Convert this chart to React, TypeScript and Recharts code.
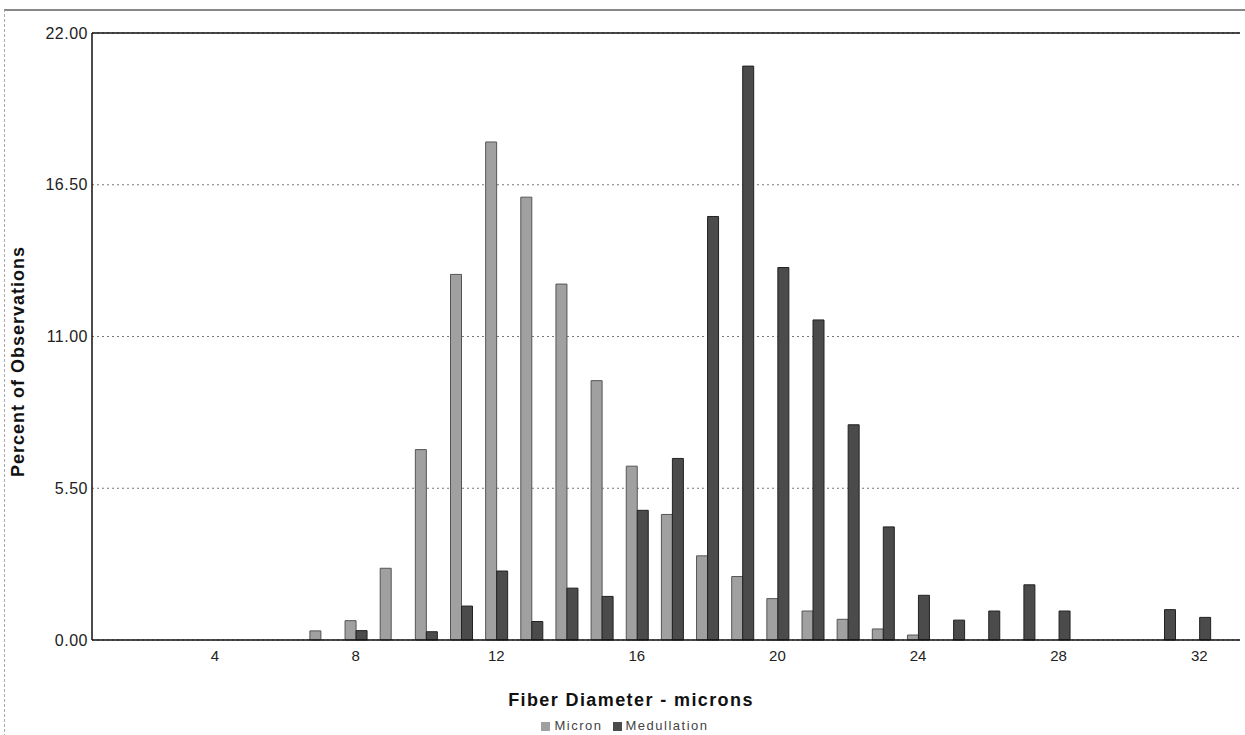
import React from 'react';
import { BarChart, Bar, XAxis, YAxis, CartesianGrid, Legend, ReferenceLine } from 'recharts';

const diameters = [1, 2, 3, 4, 5, 6, 7, 8, 9, 10, 11, 12, 13, 14, 15, 16, 17, 18, 19, 20, 21, 22, 23, 24, 25, 26, 27, 28, 29, 30, 31, 32];
const micron = [0, 0, 0, 0, 0, 0, 0.33, 0.7, 2.6, 6.9, 13.25, 18.05, 16.05, 12.9, 9.4, 6.3, 4.55, 3.05, 2.3, 1.5, 1.05, 0.75, 0.4, 0.18, 0, 0, 0, 0, 0, 0, 0, 0];
const medullation = [0, 0, 0, 0, 0, 0, 0, 0.34, 0, 0.3, 1.23, 2.5, 0.67, 1.88, 1.58, 4.7, 6.58, 15.35, 20.8, 13.5, 11.6, 7.8, 4.1, 1.62, 0.72, 1.05, 2.0, 1.05, 0, 0, 1.1, 0.82];
const xTicks = [4, 8, 12, 16, 20, 24, 28, 32];
const yTicks = [0, 5.5, 11, 16.5, 22];
const seriesOrder = ['Micron', 'Medullation'];

const data = diameters.map((d, i) => ({ d, Micron: micron[i], Medullation: medullation[i] }));

const FONT = '"Liberation Sans", Arial, sans-serif';

const YLabel = (props: any) => {
  const vb = props.viewBox || {};
  const x = 18;
  const y = (vb.y || 0) + (vb.height || 0) / 2 + 25;
  return (
    <text x={x} y={y} transform={`rotate(-90 ${x} ${y})`} textAnchor="middle" dominantBaseline="central"
      style={{ fill: '#111', fontSize: 18, fontWeight: 'bold', fontFamily: FONT, letterSpacing: 1 }}>
      Percent of Observations
    </text>
  );
};

const XLabel = (props: any) => {
  const vb = props.viewBox || {};
  const x = (vb.x || 0) + (vb.width || 0) / 2 - 35;
  const y = 700;
  return (
    <text x={x} y={y} textAnchor="middle" dominantBaseline="central"
      style={{ fill: '#111', fontSize: 18, fontWeight: 'bold', fontFamily: FONT, letterSpacing: 1.4 }}>
      Fiber Diameter - microns
    </text>
  );
};

export default function App() {
  return (
    <div style={{ position: 'absolute', left: 0, top: 0, width: 1245, height: 735, background: '#fff', fontFamily: FONT }}>
      <div style={{ position: 'absolute', left: 4, top: 9, width: 1241, height: 726, borderTop: '2px solid #888', borderLeft: '1px dashed #aaa' }} />
      <BarChart
        width={1245}
        height={735}
        data={data}
        margin={{ top: 33, right: 5, left: 0, bottom: 0 }}
        barGap={0}
        barSize={11}
        style={{ position: 'absolute', left: 0, top: 0 }}
      >
        <CartesianGrid horizontal vertical={false} stroke="#777" strokeDasharray="2 3" />
        <ReferenceLine y={22} stroke="#111" strokeWidth={1.5} />
        <XAxis
          dataKey="d"
          type="number"
          domain={[0.5, 33.16]}
          ticks={xTicks}
          allowDataOverflow
          height={75}
          axisLine={{ stroke: '#111', strokeWidth: 1.5 }}
          tickLine={false}
          tickSize={0}
          tickMargin={10}
          tick={{ fill: '#222', fontSize: 15, fontFamily: FONT }}
          label={{ content: XLabel }}
        />
        <YAxis
          type="number"
          domain={[0, 22]}
          ticks={yTicks}
          width={92}
          axisLine={{ stroke: '#111', strokeWidth: 1.5 }}
          tickLine={false}
          tickSize={2}
          tickMargin={2}
          tickFormatter={(v: number) => v.toFixed(2)}
          tick={{ fill: '#222', fontSize: 16, fontFamily: FONT, letterSpacing: 0.5 }}
          label={{ content: YLabel }}
        />
        <Legend
          verticalAlign="bottom"
          height={20}
          iconType="square"
          iconSize={9}
          itemSorter={(item: any) => seriesOrder.indexOf(item.dataKey ?? item.value)}
          wrapperStyle={{ fontSize: 13, fontFamily: FONT, color: '#444', left: 10, top: 718, letterSpacing: 1.5 }}
          formatter={(value: string) => <span style={{ color: '#444' }}>{value}</span>}
        />
        <Bar dataKey="Micron" fill="#a0a0a0" stroke="#555" strokeWidth={1} isAnimationActive={false} />
        <Bar dataKey="Medullation" fill="#4b4b4b" stroke="#222" strokeWidth={1} isAnimationActive={false} />
      </BarChart>
    </div>
  );
}
